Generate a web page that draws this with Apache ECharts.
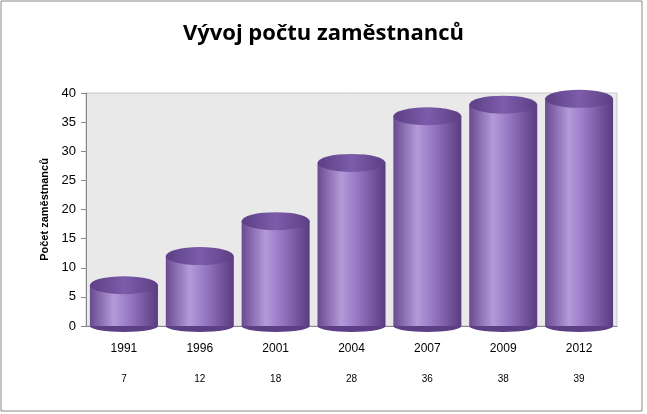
<!DOCTYPE html>
<html><head><meta charset="utf-8">
<script src="https://cdn.jsdelivr.net/npm/echarts@6/dist/echarts.min.js"></script>
<style>html,body{margin:0;padding:0;background:#fff}#c{width:647px;height:414px}</style>
</head><body><div id="c"></div>
<script>
const categories = ['1991','1996','2001','2004','2007','2009','2012'];
const employees = [7, 12, 18, 28, 36, 38, 39];
const yTicks = [0, 5, 10, 15, 20, 25, 30, 35, 40];

const chart = echarts.init(document.getElementById('c'));
const sideGrad = new echarts.graphic.LinearGradient(0,0,1,0,[
  {offset:0,color:'#6a4a92'},{offset:0.35,color:'#b39ad8'},{offset:0.55,color:'#9b7cc8'},{offset:1,color:'#5a3a80'}]);
const capGrad = new echarts.graphic.LinearGradient(0,0,1,0,[
  {offset:0,color:'#5c3f84'},{offset:0.5,color:'#7d5cab'},{offset:1,color:'#5c3f84'}]);
chart.setOption({
  animation:false,
  title:{text:'Vývoj počtu zaměstnanců',left:'center',top:18,
    textStyle:{fontFamily:'Open Sans',fontWeight:'bold',fontSize:22,color:'#000'}},
  graphic:[{type:'rect',shape:{x:1,y:1,width:641,height:410},style:{fill:'none',stroke:'#888',lineWidth:1}}],
  grid:{left:86,right:30,top:93,bottom:88,show:true,backgroundColor:'#e9e9e9',borderColor:'#c8c8c8'},
  xAxis:{type:'category',data:categories,
    axisLine:{lineStyle:{color:'#888'}},axisTick:{show:false},
    axisLabel:{margin:16,fontFamily:'Liberation Sans',fontSize:12,color:'#000',lineHeight:14,
      formatter:(v,i)=>v+'\n\n{s|'+employees[i]+'}',rich:{s:{fontSize:10,color:'#000',padding:[4,0,0,0]}}}},
  yAxis:{type:'value',min:0,max:40,interval:5,
    name:'Počet zaměstnanců',nameLocation:'middle',nameGap:34,
    nameTextStyle:{fontFamily:'Liberation Sans',fontWeight:'bold',fontSize:11,color:'#000'},
    axisLine:{show:true,lineStyle:{color:'#888'}},axisTick:{show:true,lineStyle:{color:'#888'}},
    splitLine:{show:false},
    axisLabel:{fontFamily:'Liberation Sans',fontSize:13,color:'#000',margin:10,
      formatter:v=>yTicks.includes(v)?String(v):''}},
  series:[
    {type:'bar',data:employees,barWidth:68,itemStyle:{color:sideGrad},z:2},
    {type:'pictorialBar',data:employees,symbol:'circle',symbolSize:[68,12],symbolOffset:[0,'50%'],
      symbolPosition:'start',itemStyle:{color:'#5c3f84'},z:1},
    {type:'pictorialBar',data:employees,symbol:'circle',symbolSize:[68,18],symbolOffset:[0,'-50%'],
      symbolPosition:'end',itemStyle:{color:capGrad},z:3}
  ]
});
</script></body></html>
